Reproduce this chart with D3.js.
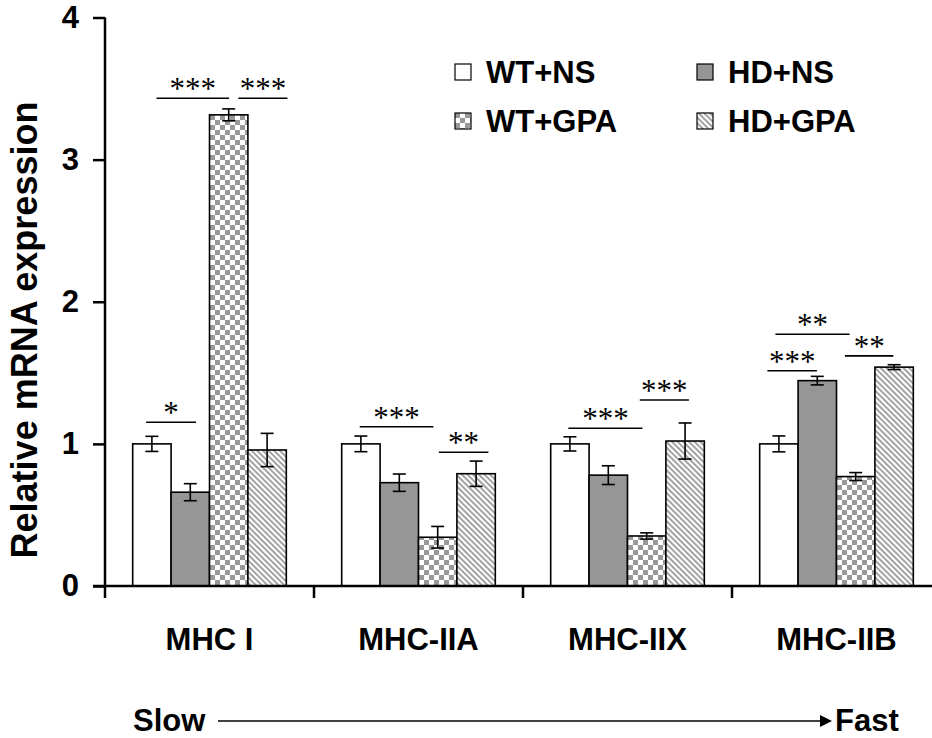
<!DOCTYPE html>
<html>
<head>
<meta charset="utf-8">
<script src="https://cdn.jsdelivr.net/npm/d3@7"></script>
<style>
  body { margin: 0; background: #fff; }
  text { font-family: Arial, "Liberation Sans", sans-serif; font-weight: bold; }
</style>
</head>
<body>
<div id="chart"></div>
<script>
// categories and groups
const categories = ["MHC I", "MHC-IIA", "MHC-IIX", "MHC-IIB"];
const series = ["WT+NS", "HD+NS", "WT+GPA", "HD+GPA"];

// mean values
const wtNs = [1.00, 1.00, 1.00, 1.00];
const hdNs = [0.66, 0.727, 0.78, 1.445];
const wtGpa = [3.315, 0.343, 0.352, 0.77];
const hdGpa = [0.957, 0.79, 1.02, 1.54];

// error bar half-widths
const wtNsErr = [0.053, 0.055, 0.05, 0.056];
const hdNsErr = [0.06, 0.061, 0.066, 0.03];
const wtGpaErr = [0.042, 0.076, 0.022, 0.028];
const hdGpaErr = [0.117, 0.089, 0.127, 0.017];

const yTicks = [0, 1, 2, 3, 4];

// significance brackets: category, span in bar units (0..4), level, stars
const sigCategory = [0, 0, 0, 1, 1, 2, 2, 3, 3, 3];
const sigFrom = [0.35, 0.62, 2.75, 0.47, 2.53, 0.46, 2.32, 0.2, 0.41, 2.22];
const sigTo = [1.65, 2.51, 4.03, 2.39, 3.82, 2.39, 3.6, 1.49, 2.34, 3.48];
const sigLevel = [1.152, 3.432, 3.432, 1.121, 0.941, 1.11, 1.309, 1.515, 1.771, 1.619];
const sigLabel = ["*", "***", "***", "***", "**", "***", "***", "***", "**", "**"];

const means = [wtNs, hdNs, wtGpa, hdGpa];
const errs = [wtNsErr, hdNsErr, wtGpaErr, hdGpaErr];
const fills = ["#ffffff", "#969696", "url(#checker)", "url(#hatch)"];

const width = 932, height = 738;

const svg = d3.select("#chart").append("svg")
    .attr("width", width)
    .attr("height", height);

svg.append("rect").attr("width", width).attr("height", height).attr("fill", "#fff");

// patterns
const defs = svg.append("defs");
const checker = defs.append("pattern")
    .attr("id", "checker")
    .attr("patternUnits", "userSpaceOnUse")
    .attr("width", 10).attr("height", 10);
checker.append("rect").attr("width", 10).attr("height", 10).attr("fill", "#fff");
checker.append("rect").attr("width", 5).attr("height", 5).attr("fill", "#999");
checker.append("rect").attr("x", 5).attr("y", 5).attr("width", 5).attr("height", 5).attr("fill", "#999");

const hatch = defs.append("pattern")
    .attr("id", "hatch")
    .attr("patternUnits", "userSpaceOnUse")
    .attr("width", 4).attr("height", 4)
    .attr("patternTransform", "rotate(-45)");
hatch.append("rect").attr("width", 4).attr("height", 4).attr("fill", "#fff");
hatch.append("line")
    .attr("x1", 1).attr("y1", 0).attr("x2", 1).attr("y2", 4)
    .attr("stroke", "#999").attr("stroke-width", 1.8);

// scales
const x0 = d3.scaleBand().domain(categories).range([105, 941]);
const bw = x0.bandwidth();
const gw = bw * 0.735;
const x1 = d3.scaleBand().domain(series).range([(bw - gw) / 2, (bw + gw) / 2]);
const barUnit = d3.scaleLinear().domain([0, 4]).range([(bw - gw) / 2, (bw + gw) / 2]);
const y = d3.scaleLinear().domain([0, 4]).range([586, 17.5]);

// y axis
const yAxis = svg.append("g")
    .attr("transform", "translate(105,0)")
    .call(d3.axisLeft(y).tickValues(yTicks).tickFormat(d3.format("d")).tickSize(12).tickPadding(14).tickSizeOuter(0));
yAxis.select(".domain").remove();
yAxis.selectAll("line").attr("stroke", "#000").attr("stroke-width", 2.5);
yAxis.selectAll("text")
    .attr("fill", "#000")
    .style("font-size", "31px")
    .style("font-weight", "bold")
    .style("font-family", "Arial, 'Liberation Sans', sans-serif");

// bars
const groups = svg.selectAll("g.cat")
    .data(categories)
    .enter().append("g")
    .attr("class", "cat")
    .attr("transform", d => "translate(" + x0(d) + ",0)");

groups.selectAll("rect.bar")
    .data((c, ci) => series.map((s, si) => ({s: s, si: si, v: means[si][ci], e: errs[si][ci]})))
    .enter().append("rect")
    .attr("class", "bar")
    .attr("x", d => x1(d.s))
    .attr("y", d => y(d.v))
    .attr("width", x1.bandwidth())
    .attr("height", d => y(0) - y(d.v))
    .attr("fill", d => fills[d.si])
    .attr("stroke", "#000")
    .attr("stroke-width", 1.6);

// error bars
const eb = groups.selectAll("g.err")
    .data((c, ci) => series.map((s, si) => ({s: s, v: means[si][ci], e: errs[si][ci]})))
    .enter().append("g")
    .attr("class", "err")
    .attr("transform", d => "translate(" + (x1(d.s) + x1.bandwidth() / 2) + ",0)")
    .attr("stroke", "#000")
    .attr("stroke-width", 1.6);
eb.append("line").attr("y1", d => y(d.v + d.e)).attr("y2", d => y(d.v - d.e));
eb.append("line").attr("x1", -6.5).attr("x2", 6.5).attr("y1", d => y(d.v + d.e)).attr("y2", d => y(d.v + d.e));
eb.append("line").attr("x1", -6.5).attr("x2", 6.5).attr("y1", d => y(d.v - d.e)).attr("y2", d => y(d.v - d.e));

// x axis with category ticks
svg.append("line")
    .attr("x1", 93).attr("x2", 941)
    .attr("y1", y(0)).attr("y2", y(0))
    .attr("stroke", "#000").attr("stroke-width", 2.5);
svg.append("line")
    .attr("x1", 105).attr("x2", 105)
    .attr("y1", y(4)).attr("y2", y(0) + 12)
    .attr("stroke", "#000").attr("stroke-width", 2.5);
svg.selectAll("line.ctick")
    .data(categories.slice(1))
    .enter().append("line")
    .attr("class", "ctick")
    .attr("x1", d => x0(d)).attr("x2", d => x0(d))
    .attr("y1", y(0)).attr("y2", y(0) + 12)
    .attr("stroke", "#000").attr("stroke-width", 2.5);

svg.selectAll("text.cat")
    .data(categories)
    .enter().append("text")
    .attr("class", "cat")
    .attr("x", d => x0(d) + bw / 2)
    .attr("y", 650)
    .attr("text-anchor", "middle")
    .style("font-size", "31px")
    .text(d => d);

// significance
const sig = svg.selectAll("g.sig")
    .data(sigLabel.map((l, i) => ({l: l, c: categories[sigCategory[i]], a: sigFrom[i], b: sigTo[i], v: sigLevel[i]})))
    .enter().append("g")
    .attr("class", "sig");
sig.append("line")
    .attr("x1", d => x0(d.c) + barUnit(d.a))
    .attr("x2", d => x0(d.c) + barUnit(d.b))
    .attr("y1", d => y(d.v)).attr("y2", d => y(d.v))
    .attr("stroke", "#000").attr("stroke-width", 1.6);
sig.append("text")
    .attr("x", d => x0(d.c) + (barUnit(d.a) + barUnit(d.b)) / 2)
    .attr("y", d => y(d.v) + 1)
    .attr("text-anchor", "middle")
    .style("font-family", "'Liberation Serif', 'Times New Roman', serif")
    .style("font-weight", "normal")
    .style("font-size", "31px")
    .text(d => d.l);

// legend
const legend = svg.selectAll("g.legend")
    .data(series)
    .enter().append("g")
    .attr("class", "legend")
    .attr("transform", (d, i) => "translate(" + (i % 2 === 0 ? 455 : 697) + "," + (i < 2 ? 64 : 113) + ")");
legend.append("rect")
    .attr("width", 16).attr("height", 16)
    .attr("fill", (d, i) => fills[i])
    .attr("stroke", "#000").attr("stroke-width", 1.2);
legend.append("text")
    .attr("x", 31).attr("y", 19)
    .style("font-size", "31px")
    .text(d => d);

// y label
svg.append("text")
    .attr("transform", "translate(37,330) rotate(-90)")
    .attr("text-anchor", "middle")
    .style("font-size", "36px")
    .text("Relative mRNA expression");

// slow -> fast arrow
svg.append("text").attr("x", 133).attr("y", 731).style("font-size", "31px").text("Slow");
svg.append("text").attr("x", 835).attr("y", 731).style("font-size", "31px").text("Fast");
svg.append("line")
    .attr("x1", 218).attr("x2", 822)
    .attr("y1", 721).attr("y2", 721)
    .attr("stroke", "#000").attr("stroke-width", 1.6);
svg.append("path")
    .attr("d", "M820,715L832,721L820,727Z")
    .attr("fill", "#000");
</script>
</body>
</html>
